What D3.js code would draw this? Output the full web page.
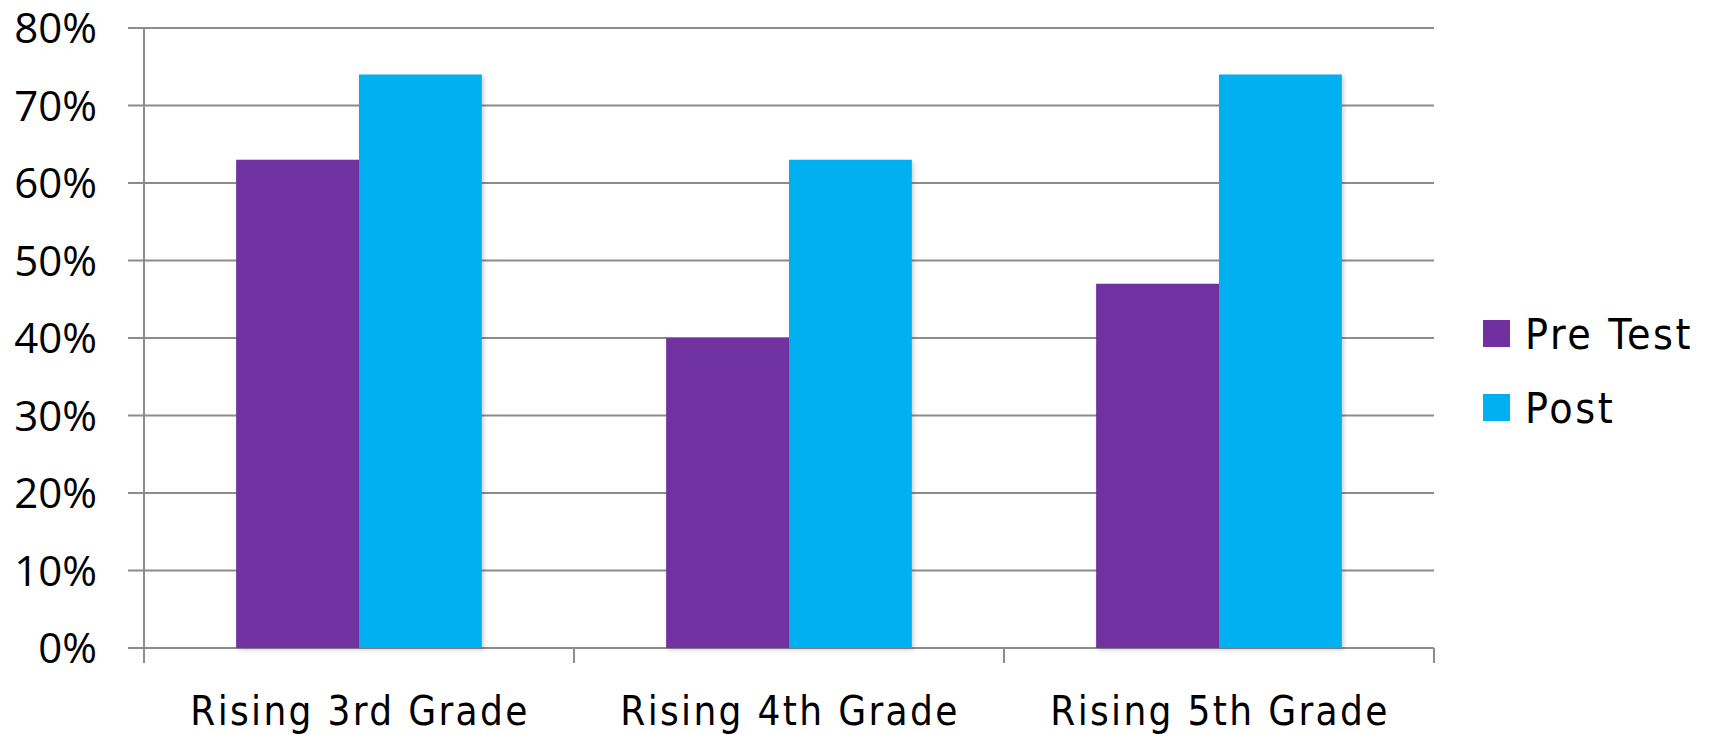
<!DOCTYPE html>
<html>
<head>
<meta charset="utf-8">
<script src="https://cdn.jsdelivr.net/npm/d3@7"></script>
<style>
  html, body { margin: 0; padding: 0; background: #fff; }
  svg { display: block; }
</style>
</head>
<body>
<svg id="chart" width="1711" height="734"></svg>
<script>
const categories = ["Rising 3rd Grade", "Rising 4th Grade", "Rising 5th Grade"];
const seriesNames = ["Pre Test", "Post"];
const preTest = [0.63, 0.40, 0.47];
const post = [0.74, 0.63, 0.74];
const yTicks = [0, 0.1, 0.2, 0.3, 0.4, 0.5, 0.6, 0.7, 0.8];
const colors = ["#7030A0", "#00B0F0"];

const series = [preTest, post];
const svg = d3.select("#chart");
const margin = { left: 144, right: 1434, top: 28, bottom: 648 };

const defs = svg.append("defs");
const f = defs.append("filter").attr("id", "shadow").attr("x", "-10%").attr("y", "-10%").attr("width", "130%").attr("height", "130%");
f.append("feDropShadow").attr("dx", 2).attr("dy", 2).attr("stdDeviation", 2).attr("flood-color", "#000").attr("flood-opacity", 0.18);

const x = d3.scaleBand().domain(categories).range([margin.left, margin.right]).paddingInner(0).paddingOuter(0);
const x1 = d3.scaleBand().domain(seriesNames).range([0, x.bandwidth()]).paddingInner(0).paddingOuter(0.75);
const y = d3.scaleLinear().domain([0, 0.8]).range([margin.bottom, margin.top]);

// gridlines
svg.append("g").selectAll("line").data(yTicks).join("line")
  .attr("x1", margin.left - 16).attr("x2", margin.right)
  .attr("y1", d => y(d)).attr("y2", d => y(d))
  .attr("stroke", "#8c8c8c").attr("stroke-width", 2);

// y axis line
svg.append("line").attr("x1", margin.left).attr("x2", margin.left)
  .attr("y1", margin.top).attr("y2", margin.bottom + 15)
  .attr("stroke", "#8c8c8c").attr("stroke-width", 2);

// bottom category ticks
svg.append("g").selectAll("line").data(categories).join("line")
  .attr("x1", d => x(d) + x.bandwidth()).attr("x2", d => x(d) + x.bandwidth())
  .attr("y1", margin.bottom).attr("y2", margin.bottom + 15)
  .attr("stroke", "#8c8c8c").attr("stroke-width", 2);

// bars
const groups = svg.append("g").selectAll("g").data(categories).join("g")
  .attr("transform", d => `translate(${x(d)},0)`);
groups.selectAll("rect").data((d, i) => seriesNames.map((s, j) => ({ s, v: series[j][i], j })))
  .join("rect")
  .attr("x", d => x1(d.s)).attr("width", x1.bandwidth())
  .attr("y", d => y(d.v)).attr("height", d => y(0) - y(d.v))
  .attr("fill", d => colors[d.j])
  .attr("filter", "url(#shadow)");

// y tick labels
svg.append("g").selectAll("text").data(yTicks).join("text")
  .attr("x", 97).attr("y", d => y(d)).attr("dy", "0.36em")
  .attr("text-anchor", "end")
  .attr("font-family", "'Open Sans', sans-serif").attr("font-size", 42)
  .attr("fill", "#000")
  .text(d => d3.format(".0%")(d));

// category labels
svg.append("g").selectAll("text").data(categories).join("text")
  .attr("x", d => x(d) + x.bandwidth() / 2 + 1).attr("y", 725)
  .attr("text-anchor", "middle")
  .attr("font-family", "'DejaVu Sans Condensed', 'DejaVu Sans', sans-serif")
  .attr("font-stretch", "condensed")
  .attr("font-size", 40).attr("letter-spacing", 2.35)
  .attr("fill", "#000")
  .text(d => d);

// legend
const leg = svg.append("g").selectAll("g").data(seriesNames).join("g")
  .attr("transform", (d, i) => `translate(1483, ${320 + i * 74})`);
leg.append("rect").attr("width", 27).attr("height", 27).attr("fill", (d, i) => colors[i]);
leg.append("text").attr("x", 42).attr("y", 29)
  .attr("font-family", "'DejaVu Sans Condensed', 'DejaVu Sans', sans-serif")
  .attr("font-stretch", "condensed")
  .attr("font-size", 42.5).attr("letter-spacing", 2.6)
  .attr("fill", "#000")
  .text(d => d);
</script>
</body>
</html>
